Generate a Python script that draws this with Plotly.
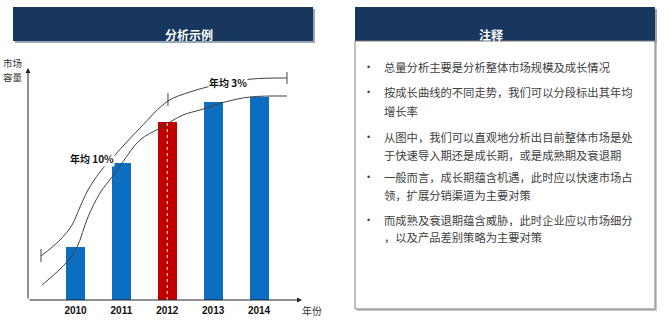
import plotly.graph_objects as go

W, H = 670, 322

# ---------------- data ----------------
years = [2010, 2011, 2012, 2013, 2014]
year_labels = ["2010", "2011", "2012", "2013", "2014"]
market_size = [53, 137, 178, 198, 203]
highlight_year = 2012

# S-curves (growth band), in (year, market size) units
upper_x = [2009.248, 2009.662, 2009.924, 2010.098, 2010.272, 2010.534, 2010.861,
           2011.406, 2012.016, 2012.496, 2013.150, 2013.847, 2014.610]
upper_y = [44, 60, 75, 93, 110, 128, 145, 172, 199, 208, 216, 221, 222]
lower_x = [2009.270, 2009.815, 2010.033, 2010.272, 2010.534, 2010.796, 2011.014,
           2011.406, 2011.842, 2012.343, 2012.714, 2013.259, 2013.804, 2014.610]
lower_y = [15, 38, 53, 83, 107, 123, 137, 160, 172, 185, 190, 198, 203, 204]

# segment marks on the upper curve
seg_x = [2009.248, 2012.016, 2014.610]
seg_y0 = [38, 194, 216]
seg_y1 = [51, 207, 228]

rate_labels = ["年均 10%", "年均 3%"]
rate_x = [2010.36, 2013.324]
rate_y = [142, 218]

left_title = "分析示例"
right_title = "注释"
x_axis_label = "年份"
y_axis_label = ["市场", "容量"]

notes = [
    ["总量分析主要是分析整体市场规模及成长情况"],
    ["按成长曲线的不同走势，我们可以分段标出其年均", "增长率"],
    ["从图中，我们可以直观地分析出目前整体市场是处", "于快速导入期还是成长期，或是成熟期及衰退期"],
    ["一般而言，成长期蕴含机遇，此时应以快速市场占", "领，扩展分销渠道为主要对策"],
    ["而成熟及衰退期蕴含威胁，此时企业应以市场细分", "，以及产品差别策略为主要对策"],
]

# ---------------- style ----------------
NAVY = "#17375E"
BLUE = "#0B6EC1"
RED = "#C00000"
LINE = "#404040"
CJK = "Noto Sans CJK SC"
ARIAL = "Arial, Liberation Sans, sans-serif"

# axis geometry (pixel layout of the plotting area)
PX_PER_YEAR = 45.875
X0_PX = 75.5  # pixel of first year
dom_l, dom_r = 20, 310
dom_t, dom_b = 60, 300
x_range = [years[0] - (X0_PX - dom_l) / PX_PER_YEAR, years[0] + (dom_r - X0_PX) / PX_PER_YEAR]
y_range = [0, dom_b - dom_t]
axis_x0 = years[0] - (X0_PX - 28) / PX_PER_YEAR
axis_x1 = years[0] + (302 - X0_PX) / PX_PER_YEAR
axis_ytop = 232


def px(x):
    return x / W


def py(y):
    return 1 - y / H


fig = go.Figure()

colors = [RED if y == highlight_year else BLUE for y in years]
fig.add_trace(go.Bar(x=years, y=market_size, marker=dict(color=colors, line=dict(width=0)),
                     width=19 / PX_PER_YEAR, hoverinfo="skip", showlegend=False))

fig.add_trace(go.Scatter(x=upper_x, y=upper_y, mode="lines",
                         line=dict(color=LINE, width=1, shape="spline", smoothing=1.0),
                         hoverinfo="skip", showlegend=False))
fig.add_trace(go.Scatter(x=lower_x, y=lower_y, mode="lines",
                         line=dict(color=LINE, width=1, shape="spline", smoothing=1.0),
                         hoverinfo="skip", showlegend=False))

sx, sy = [], []
for x, a, b in zip(seg_x, seg_y0, seg_y1):
    sx += [x, x, None]
    sy += [a, b, None]
fig.add_trace(go.Scatter(x=sx, y=sy, mode="lines", line=dict(color=LINE, width=1),
                         hoverinfo="skip", showlegend=False))

shapes = []
# dashed white line on highlighted bar
hi = years.index(highlight_year)
shapes.append(dict(type="line", xref="x", yref="y", x0=years[hi], x1=years[hi], y0=0,
                   y1=market_size[hi], line=dict(color="white", width=1, dash="dot"), layer="above"))

# headers with shadow
for (l, r) in [(13, 313), (355, 655)]:
    shapes.append(dict(type="rect", xref="paper", yref="paper", x0=px(l + 2), x1=px(r + 2),
                       y0=py(41 + 2), y1=py(7 + 2), fillcolor="#9AA6B4", line=dict(width=0), layer="below"))
    shapes.append(dict(type="rect", xref="paper", yref="paper", x0=px(l), x1=px(r),
                       y0=py(41), y1=py(7), fillcolor=NAVY, line=dict(width=0), layer="below"))
# notes box
shapes.append(dict(type="rect", xref="paper", yref="paper", x0=px(357), x1=px(657),
                   y0=py(311), y1=py(43), fillcolor="#C8C8C8", line=dict(width=0), layer="below"))
shapes.append(dict(type="rect", xref="paper", yref="paper", x0=px(355), x1=px(655),
                   y0=py(309), y1=py(41), fillcolor="white", line=dict(color="#7F7F7F", width=1),
                   layer="below"))

ann = []
# axes with arrows
ann.append(dict(x=axis_x0, y=axis_ytop, ax=axis_x0, ay=0, xref="x", yref="y", axref="x", ayref="y",
                text="", showarrow=True, arrowhead=2, arrowsize=1, arrowwidth=1, arrowcolor="#222"))
ann.append(dict(x=axis_x1, y=0, ax=axis_x0, ay=0, xref="x", yref="y", axref="x", ayref="y",
                text="", showarrow=True, arrowhead=2, arrowsize=1, arrowwidth=1, arrowcolor="#222"))

for t, x, y in zip(rate_labels, rate_x, rate_y):
    ann.append(dict(x=x, y=y, xref="x", yref="y", text="<b>" + t + "</b>", showarrow=False,
                    font=dict(family=CJK, size=10, color="#111"), bgcolor="white", borderpad=0))

ann.append(dict(x=px(300), y=py(310), xref="paper", yref="paper", xanchor="left", yanchor="middle",
                text=x_axis_label, showarrow=False, font=dict(family=CJK, size=10, color="#333")))
for i, t in enumerate(y_axis_label):
    ann.append(dict(x=px(1), y=py(63 + 14 * i), xref="paper", yref="paper", xanchor="left",
                    yanchor="middle", text=t, showarrow=False, font=dict(family=CJK, size=9.5, color="#333")))

# titles
ann.append(dict(x=px(163), y=py(24), xref="paper", yref="paper", text="<b>" + left_title + "</b>",
                showarrow=False, font=dict(family=CJK, size=12, color="white")))
ann.append(dict(x=px(505), y=py(24), xref="paper", yref="paper", text="<b>" + right_title + "</b>",
                showarrow=False, font=dict(family=CJK, size=12, color="white")))

# notes
line_ys = [[67], [92, 111], [137, 155], [177, 195], [220, 237]]
for para, ys in zip(notes, line_ys):
    ann.append(dict(x=px(368), y=py(ys[0]), xref="paper", yref="paper", text="•", showarrow=False,
                    xanchor="center", yanchor="middle", font=dict(family=ARIAL, size=9, color="#404040")))
    for t, y in zip(para, ys):
        ann.append(dict(x=px(382), y=py(y), xref="paper", yref="paper", text=t, showarrow=False,
                        xanchor="left", yanchor="middle", font=dict(family=CJK, size=11.3, color="#404040")))

fig.update_layout(
    width=W, height=H, margin=dict(l=0, r=0, t=0, b=0),
    paper_bgcolor="white", plot_bgcolor="white",
    shapes=shapes, annotations=ann, bargap=0,
    xaxis=dict(domain=[px(dom_l), px(dom_r)], range=x_range, showgrid=False, zeroline=False,
               showline=False, tickmode="array", tickvals=years,
               ticktext=["<b>" + t + "</b>" for t in year_labels], ticks="", ticklen=0,
               ticklabelstandoff=3,
               tickfont=dict(family=ARIAL, size=10, color="#111"), automargin=False, fixedrange=True),
    yaxis=dict(domain=[1 - dom_b / H, 1 - dom_t / H], range=y_range, showgrid=False, zeroline=False,
               showline=False, showticklabels=False, ticks="", automargin=False, fixedrange=True),
)

fig.write_html("out.html")
